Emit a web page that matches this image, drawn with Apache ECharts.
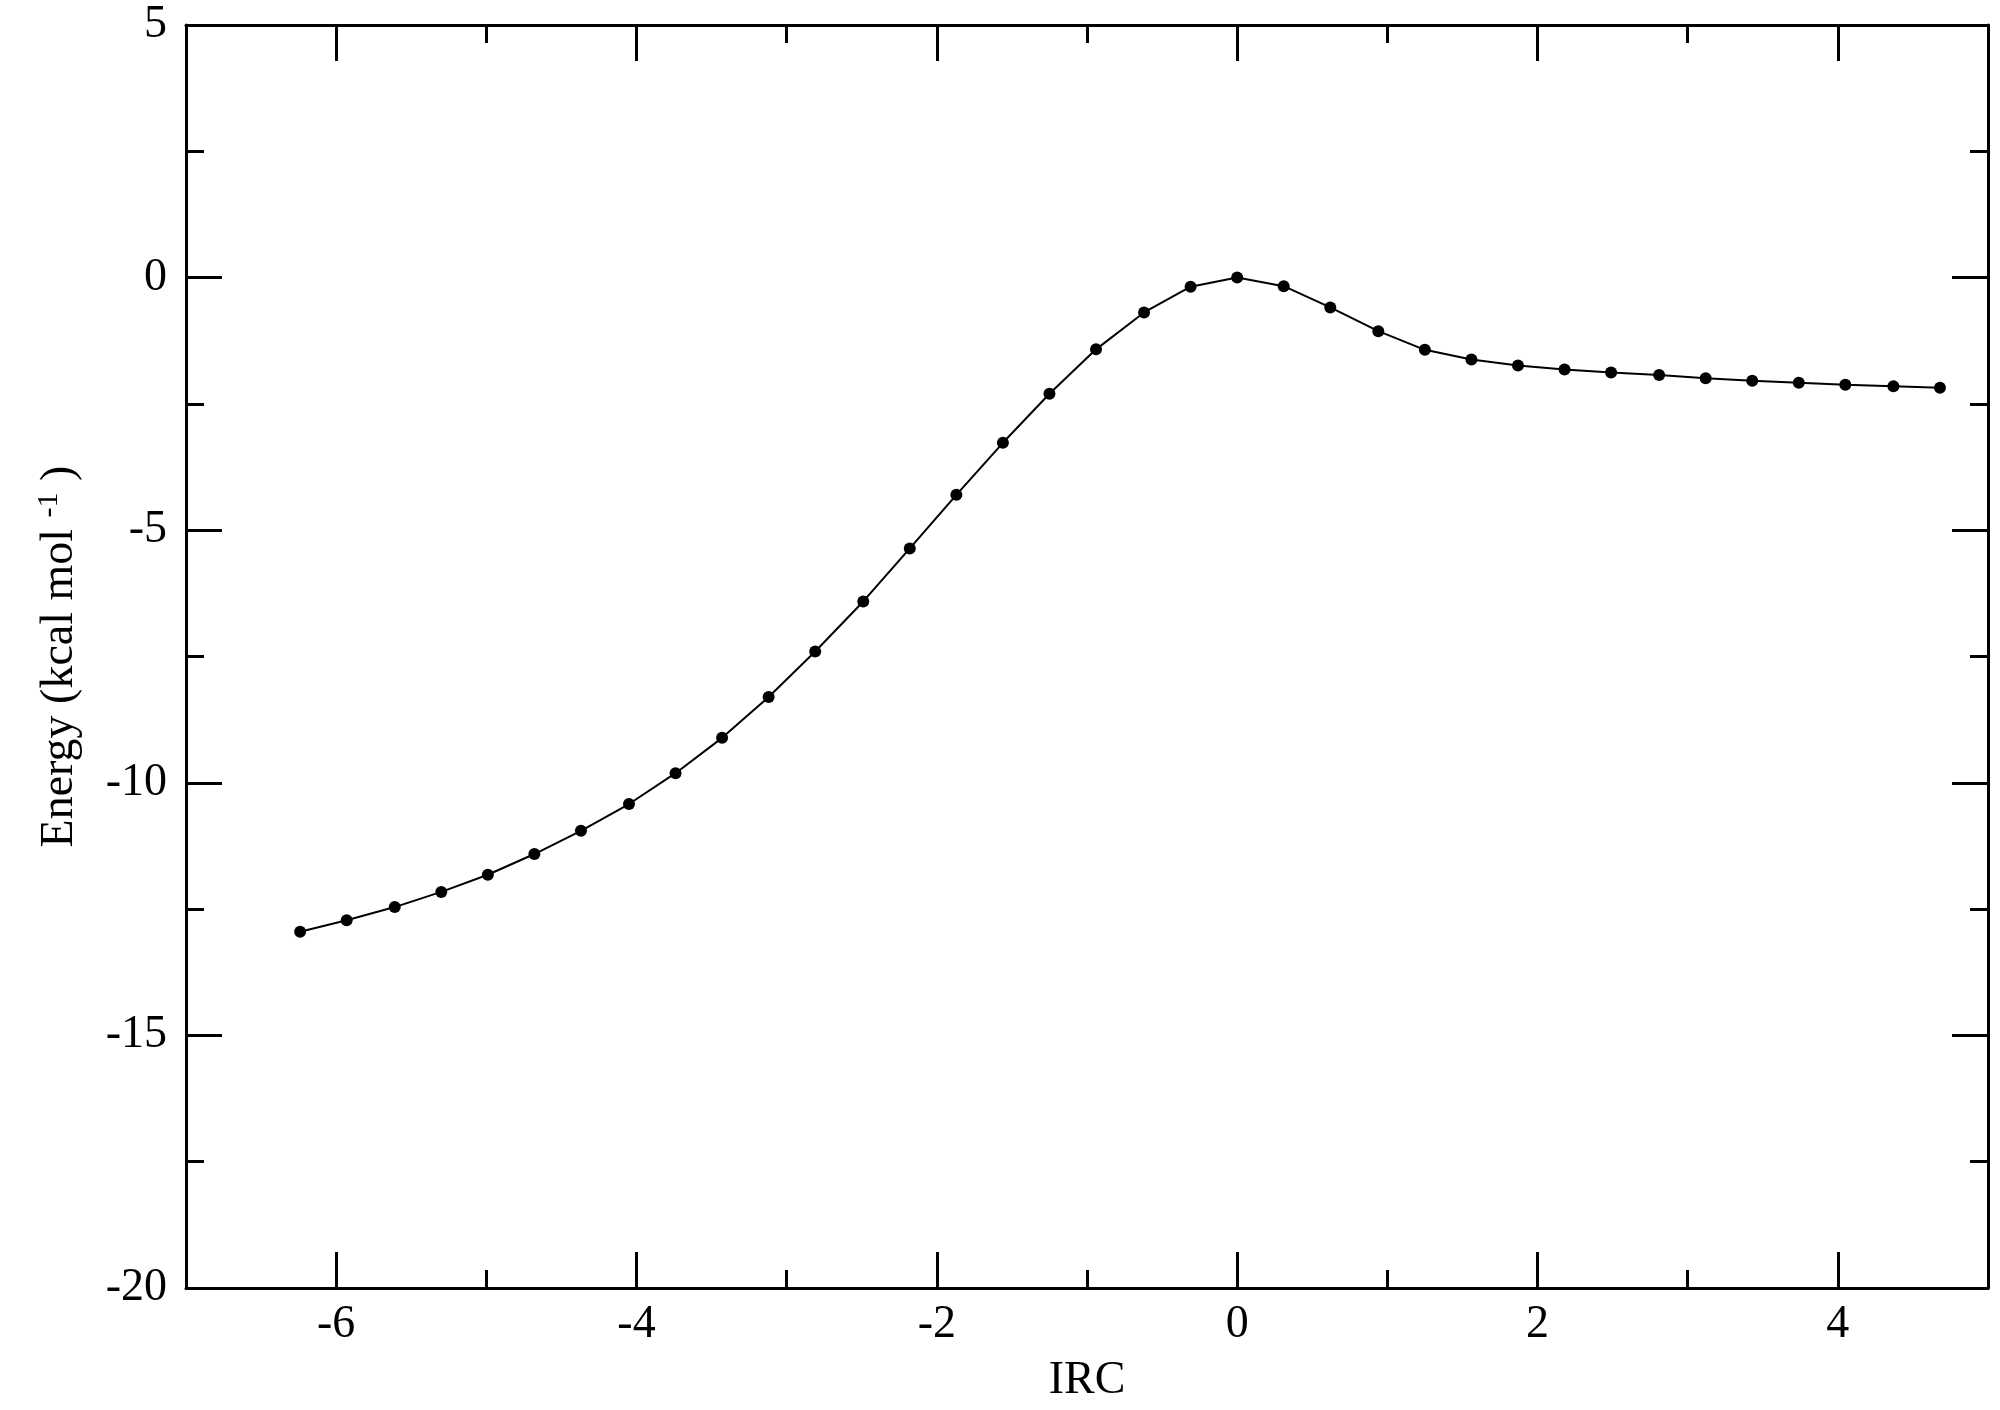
<!DOCTYPE html>
<html>
<head>
<meta charset="utf-8">
<script src="https://cdn.jsdelivr.net/npm/echarts@6/dist/echarts.min.js"></script>
<style>
  html, body { margin: 0; padding: 0; background: #fff; }
  #main { width: 2000px; height: 1410px; }
</style>
</head>
<body>
<div id="main"></div>
<script>
// IRC coordinate
var ircX = [-6.24, -5.93, -5.61, -5.30, -4.99, -4.68, -4.37, -4.05, -3.74, -3.43,
            -3.12, -2.81, -2.49, -2.18, -1.87, -1.56, -1.25, -0.94, -0.62, -0.31,
            0, 0.31, 0.62, 0.94, 1.25, 1.56, 1.87, 2.18, 2.49, 2.81,
            3.12, 3.43, 3.74, 4.05, 4.37, 4.68];
// energy, kcal/mol
var energy = [-12.95, -12.72, -12.46, -12.16, -11.82, -11.41, -10.95, -10.42, -9.81, -9.11,
              -8.30, -7.40, -6.41, -5.36, -4.30, -3.27, -2.30, -1.42, -0.69, -0.18,
              0, -0.17, -0.59, -1.06, -1.43, -1.62, -1.74, -1.82, -1.88, -1.93,
              -1.99, -2.04, -2.08, -2.12, -2.15, -2.18];
// x ticks
var xMajor = [-6, -4, -2, 0, 2, 4];
var xMinor = [-7, -5, -3, -1, 1, 3, 5];

var font = "Liberation Serif";
var pts = [];
for (var i = 0; i < ircX.length; i++) {
  pts.push([ircX[i], energy[i]]);
}

var myChart = echarts.init(document.getElementById("main"));

var black = { color: "#000", width: 3 };

// x axis: major ticks (with labels or not) / minor ticks on separate axes
function xAxisMk(pos, ticks, len, labels, line) {
  return {
    type: "value",
    position: pos,
    min: -7,
    max: 5,
    axisLine: { show: line, onZero: false, lineStyle: black },
    axisTick: { show: true, inside: true, length: len, customValues: ticks, lineStyle: black },
    splitLine: { show: false },
    axisLabel: {
      show: labels,
      customValues: ticks,
      color: "#000",
      fontFamily: font,
      fontSize: 46,
      margin: 14
    }
  };
}

function yAxisMk(pos, labels) {
  return {
    type: "value",
    position: pos,
    min: -20,
    max: 5,
    interval: 5,
    axisLine: { show: true, onZero: false, lineStyle: black },
    axisTick: { show: true, inside: true, length: 36, lineStyle: black },
    minorTick: { show: true, splitNumber: 2, length: 18, lineStyle: black },
    splitLine: { show: false },
    axisLabel: {
      show: labels,
      color: "#000",
      fontFamily: font,
      fontSize: 46,
      margin: 19
    }
  };
}

var xBottom = xAxisMk("bottom", xMajor, 36, true, true);
xBottom.name = "IRC";
xBottom.nameLocation = "middle";
xBottom.nameGap = 70;
xBottom.nameTextStyle = { color: "#000", fontFamily: font, fontSize: 46 };

var yLeft = yAxisMk("left", true);
yLeft.name = "Energy (kcal mol {s|-1} )";
yLeft.nameLocation = "middle";
yLeft.nameGap = 100;
yLeft.nameTextStyle = {
  color: "#000", fontFamily: font, fontSize: 46,
  rich: {
    s: { fontFamily: font, fontSize: 30, color: "#000", verticalAlign: "top", padding: [0, 0, 22, 0] }
  }
};

var option = {
  backgroundColor: "#fff",
  animation: false,
  grid: { left: 186, right: 12, top: 25, bottom: 122 },
  xAxis: [
    xBottom,
    xAxisMk("bottom", xMinor, 18, false, false),
    xAxisMk("top", xMajor, 36, false, true),
    xAxisMk("top", xMinor, 18, false, false)
  ],
  yAxis: [yLeft, yAxisMk("right", false)],
  series: [
    {
      type: "line",
      xAxisIndex: 0,
      yAxisIndex: 0,
      data: pts,
      symbol: "circle",
      symbolSize: 12,
      itemStyle: { color: "#000" },
      lineStyle: { color: "#000", width: 2 }
    }
  ]
};
myChart.setOption(option);
</script>
</body>
</html>
